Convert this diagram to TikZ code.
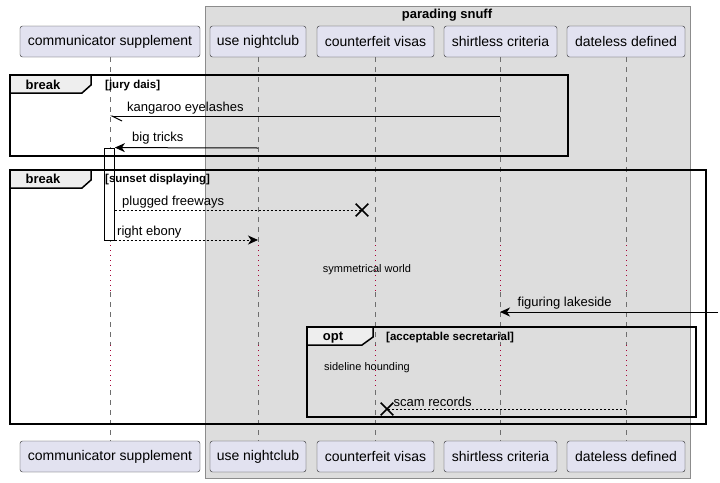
\documentclass[tikz,border=0pt]{standalone}
\usepackage{fontspec}
\setmainfont{Liberation Sans}
\usetikzlibrary{positioning,arrows.meta,shapes.misc}

\definecolor{partfill}{HTML}{E2E2F0}
\definecolor{boxfill}{HTML}{DDDDDD}
\definecolor{boxline}{HTML}{8C8C8C}
\definecolor{tabfill}{HTML}{EEEEEE}
\definecolor{lifegray}{HTML}{6E6E6E}
\definecolor{delayred}{HTML}{A80036}

\begin{document}
\begin{tikzpicture}[x=1pt, y=-1pt,
  part/.style={draw=black!85, fill=partfill, rounded corners=2.5pt, minimum height=31pt, inner sep=0pt, font=\fontsize{14}{16}\selectfont},
  life/.style={draw=lifegray, line width=0.8pt, dash pattern=on 5pt off 5pt},
  delay/.style={draw=delayred, line width=0.9pt, dash pattern=on 1pt off 4pt},
  lbl/.style={anchor=west, inner sep=0pt, font=\fontsize{13}{15}\selectfont},
  small/.style={inner sep=0pt, font=\fontsize{11}{13}\selectfont},
  cond/.style={anchor=west, inner sep=0pt, font=\bfseries\fontsize{11.5}{13}\selectfont},
  kind/.style={inner sep=0pt, font=\bfseries\fontsize{13}{15}\selectfont},
  frame/.style={draw=black, line width=1.5pt},
  kill/.style={cross out, draw=black, line width=1.6pt, minimum size=11pt, inner sep=0pt},
  call/.style={draw=black, line width=1pt, -{Stealth[length=10pt, width=9pt, inset=3pt]}},
  reply/.style={draw=black, line width=0.8pt, dash pattern=on 2pt off 2pt, -{Stealth[length=10pt, width=9pt, inset=3pt]}}]
\useasboundingbox (0,0) rectangle (720,482);

\draw[draw=boxline, fill=boxfill] (205,6) rectangle (690,478);
\node[kind] (bt) at (447,15) {parading snuff};

\node[part, minimum width=180pt] (cs) at (110,41.5) {communicator supplement};
\node[part, minimum width=96pt] (un) at (258,41.5) {use nightclub};
\node[part, minimum width=117pt] (cv) at (375.5,41.5) {counterfeit visas};
\node[part, minimum width=113pt] (sc) at (500.5,41.5) {shirtless criteria};
\node[part, minimum width=118pt] (dd) at (626,41.5) {dateless defined};
\node[part, minimum width=180pt] (cs_b) at (110,456.5) {communicator supplement};
\node[part, minimum width=96pt] (un_b) at (258,456.5) {use nightclub};
\node[part, minimum width=117pt] (cv_b) at (375.5,456.5) {counterfeit visas};
\node[part, minimum width=113pt] (sc_b) at (500.5,456.5) {shirtless criteria};
\node[part, minimum width=118pt] (dd_b) at (626,456.5) {dateless defined};

\coordinate (d1a) at (0,245);
\coordinate (d1b) at (0,292);
\coordinate (d2a) at (0,345);
\coordinate (d2b) at (0,390);

\foreach \p in {cs,un,cv,sc,dd} {
  \draw[life] (\p.south) -- (\p.south |- d1a);
  \draw[delay] (\p.south |- d1a) -- (\p.south |- d1b);
  \draw[life] (\p.south |- d1b) -- (\p.south |- d2a);
  \draw[delay] (\p.south |- d2a) -- (\p.south |- d2b);
  \draw[life] (\p.south |- d2b) -- (\p_b.north);
}

\node[draw=black, fill=white, line width=0.8pt, minimum width=10pt, minimum height=92pt, inner sep=0pt] (act) at (109.5,194) {};

% break [jury dais]
\draw[frame] (10,75) rectangle (568,156);
\draw[frame, fill=tabfill] (10,75) -- (91,75) -- (91,85) -- (82,93) -- (10,93) -- cycle;
\node[kind] (f_1) at (43,84.5) {break};
\node[cond] (c_1) at (105,85.5) {[jury dais]};

% break [sunset displaying]
\draw[frame] (10,170) rectangle (706,424);
\draw[frame, fill=tabfill] (10,170) -- (91,170) -- (91,180) -- (82,188) -- (10,188) -- cycle;
\node[kind] (f_2) at (43,179) {break};
\node[cond] (c_2) at (105,179.5) {[sunset displaying]};

% opt [acceptable secretarial]
\draw[frame] (307,327) rectangle (696,417);
\draw[frame, fill=tabfill] (307,327) -- (373,327) -- (373,337) -- (362,345) -- (307,345) -- cycle;
\node[kind] (f_3) at (333,338) {opt};
\node[cond] (c_3) at (386,338) {[acceptable secretarial]};

\coordinate (k_s) at (500,116);
\coordinate (k_e) at (110,116);
\coordinate (b_s) at (258,148);
\coordinate (p_s) at (114.5,210);
\node[kill] (x_1) at (362,210) {};
\coordinate (r_s) at (114.5,240);
\coordinate (r_e) at (258,240);
\coordinate (g_s) at (718,312);
\coordinate (g_e) at (500,312);
\coordinate (s_s) at (626,409);
\node[kill] (x_2) at (387,409) {};

\node[lbl] (l_k) at (127,108.5) {kangaroo eyelashes};
\node[lbl] (l_b) at (132,138.5) {big tricks};
\node[lbl] (l_p) at (122,202) {plugged freeways};
\node[lbl] (l_r) at (117,232) {right ebony};
\node[small] (w_1) at (367,270) {symmetrical world};
\node[lbl] (l_g) at (517.5,303.5) {figuring lakeside};
\node[small] (w_2) at (367,368) {sideline hounding};
\node[lbl] (l_s) at (393.5,402) {scam records};

\path
(k_s) edge [draw=black, line width=1pt, -{Straight Barb[harpoon, length=10pt, width=10pt]}] (k_e)
(b_s) edge [call] (act.north east)
(p_s) edge [reply, -] (x_1.center)
(r_s) edge [reply] (r_e)
(g_s) edge [call] (g_e)
(s_s) edge [reply, -] (x_2.center)
;
\end{tikzpicture}
\end{document}
